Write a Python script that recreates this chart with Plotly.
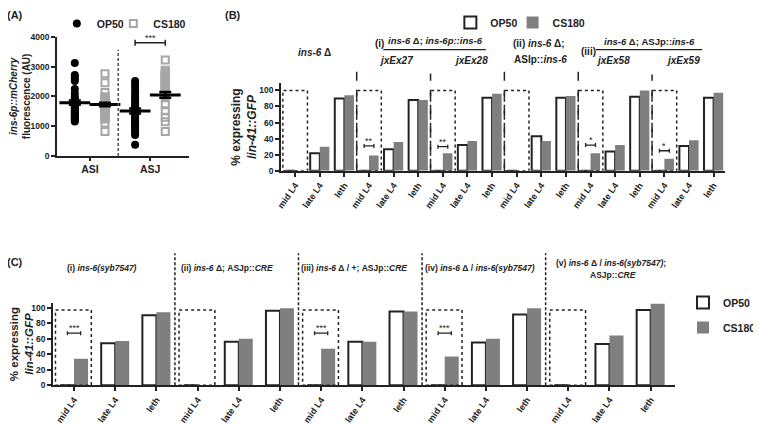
import plotly.graph_objects as go

# page is drawn 8px in from the window corner (body margin)
W, H = 761, 425
OFF = 8
FW, FH = W - OFF, H - OFF
FONT = "Liberation Sans, Arial, sans-serif"
INK = "#222222"
GREY = "#7f7f7f"
LIGHT = "#a6a6a6"

# ---------------- data ----------------
# (A) ins-6p::mCherry fluorescence (AU)
neurons = ["ASI", "ASJ"]
asi_op50 = [3120, 2720, 2650, 2580, 2520, 2250, 2100, 1980, 1920, 1880, 1850, 1820,
            1790, 1760, 1720, 1680, 1640, 1600, 1560, 1520, 1480, 1440, 1400, 1360,
            1320, 1280, 1240, 1200, 1160]
asi_cs180 = [2760, 2460, 2130, 1990, 1940, 1900, 1860, 1820, 1780, 1750, 1720, 1700,
             1680, 1650, 1620, 1590, 1560, 1530, 1500, 1470, 1440, 1400, 1360, 1320,
             1280, 1240, 1110, 820]
asj_op50 = [2520, 2420, 2320, 2200, 2100, 2000, 1900, 1800, 1720, 1650, 1600, 1560,
            1520, 1480, 1440, 1400, 1360, 1320, 1260, 1200, 1140, 1080, 1020, 960,
            900, 840, 780, 700, 380]
asj_cs180 = [3220, 2880, 2830, 2780, 2730, 2680, 2630, 2580, 2530, 2480, 2430, 2380,
             2330, 2280, 2230, 2180, 2130, 2080, 2030, 1980, 1720, 1520, 1300, 1150, 820]
mean_op50 = [1790, 1510]
sem_op50 = [70, 85]
mean_cs180 = [1730, 2050]
sem_cs180 = [60, 100]

# (B) and (C) % expressing lin-41::GFP
stages = ["mid L4", "late L4", "leth"]
b_op50 = [0, 22, 90, 0, 27, 88, 0, 32, 91, 0, 43, 91, 0, 24, 92, 0, 31, 91]
b_cs180 = [0, 30, 94, 19, 36, 88, 22, 37, 96, 0, 37, 93, 22, 32, 100, 15, 38, 97]
b_sig_idx = [3, 6, 12, 15]
b_sig_y = [31, 30, 32, 25]
b_sig_txt = ["**", "**", "*", "*"]

c_op50 = [0, 54, 90, 0, 56, 96, 0, 56, 95, 0, 55, 91, 0, 53, 97]
c_cs180 = [34, 57, 94, 0, 60, 99, 47, 56, 95, 37, 60, 99, 0, 64, 105]
c_sig_idx = [0, 6, 9]
c_sig_y = [67, 67, 67]
c_sig_txt = ["***", "***", "***"]


def px(x):
    return (x - OFF) / FW


def py(y):
    return 1 - (y - OFF) / FH


def bold(size, **kw):
    return dict(family=FONT, size=size, color=INK, weight="bold", **kw)


fig = go.Figure()

# ---------------- panel A ----------------
for vals, k, show in [(asi_op50, 0, True), (asj_op50, 1, False)]:
    fig.add_trace(go.Scatter(
        x=[k + 1 - 0.25] * len(vals), y=vals, mode="markers", name="OP50",
        marker=dict(symbol="circle", size=8, color="black"),
        showlegend=show, legend="legend", xaxis="x", yaxis="y"))
for vals, k, show in [(asi_cs180, 0, True), (asj_cs180, 1, False)]:
    fig.add_trace(go.Scatter(
        x=[k + 1 + 0.25] * len(vals), y=vals, mode="markers", name="CS180",
        marker=dict(symbol="square-open", size=7, color=LIGHT, line=dict(width=2, color=LIGHT)),
        showlegend=show, legend="legend4", xaxis="x", yaxis="y"))
for means, sems, off in [(mean_op50, sem_op50, -0.25), (mean_cs180, sem_cs180, 0.25)]:
    fig.add_trace(go.Scatter(
        x=[i + 1 + off for i in range(len(means))], y=means, mode="markers",
        marker=dict(symbol="line-ew", size=22, line=dict(width=3, color="black")),
        error_y=dict(type="data", array=sems, width=6, thickness=2.5, color="black"),
        showlegend=False, xaxis="x", yaxis="y"))
# significance bracket ASJ
fig.add_trace(go.Scatter(
    x=[2], y=[3800], mode="markers", marker=dict(size=1, color="rgba(0,0,0,0)"),
    error_x=dict(type="data", array=[0.25], width=3, thickness=1.5, color=INK),
    showlegend=False, xaxis="x", yaxis="y"))


# ---------------- panels B and C ----------------
def add_bars(op, cs, ax, ay, w, leg_op, leg_cs):
    xs = list(range(len(op)))
    fig.add_trace(go.Bar(x=xs, y=op, width=w, offset=-w, name="OP50", legendgroup=ax + "op",
                         marker=dict(color="white", line=dict(color=INK, width=2)),
                         legend=leg_op, xaxis=ax, yaxis=ay))
    fig.add_trace(go.Bar(x=xs, y=cs, width=w, offset=0, name="CS180", legendgroup=ax + "cs",
                         marker=dict(color=GREY, line=dict(width=0)),
                         legend=leg_cs, xaxis=ax, yaxis=ay))


add_bars(b_op50, b_cs180, "x2", "y2", 0.39, "legend2", "legend5")
add_bars(c_op50, c_cs180, "x3", "y3", 0.34, "legend3", "legend3")

for idx, yv, ax, ay, hw in [(b_sig_idx, b_sig_y, "x2", "y2", 0.2), (c_sig_idx, c_sig_y, "x3", "y3", 0.16)]:
    fig.add_trace(go.Scatter(
        x=idx, y=yv, mode="markers", marker=dict(size=1, color="rgba(0,0,0,0)"),
        error_x=dict(type="data", array=[hw] * len(idx), width=2, thickness=1.3, color=INK),
        showlegend=False, xaxis=ax, yaxis=ay))

shapes = []
annotations = []

# dotted boxes around mid L4
for i in range(0, len(b_op50), 3):
    shapes.append(dict(type="rect", xref="x2", yref="y2", x0=i - 0.5, x1=i + 0.5, y0=0, y1=100,
                       line=dict(color=INK, width=1.5, dash="dot")))
for i in range(0, len(c_op50), 3):
    shapes.append(dict(type="rect", xref="x3", yref="y3", x0=i - 0.45, x1=i + 0.42, y0=0, y1=97,
                       line=dict(color=INK, width=1.5, dash="dot")))

# dashed separators
b_tops = [62, 71, 62, 62, 72]
for k, top in enumerate(b_tops):
    shapes.append(dict(type="line", xref="x2", yref="paper", x0=3 * k + 2.5, x1=3 * k + 2.5,
                       y0=py(169), y1=py(top), line=dict(color=INK, width=1.5, dash="dash")))
for k in range(4):
    shapes.append(dict(type="line", xref="x3", yref="paper", x0=3 * k + 2.45, x1=3 * k + 2.45,
                       y0=py(385), y1=py(252), line=dict(color=INK, width=1.5, dash="3px,2px")))
# dashed ASI / ASJ divider
shapes.append(dict(type="line", xref="x", yref="paper", x0=1.47, x1=1.47, y0=py(154), y1=py(47),
                   line=dict(color="#555555", width=1.5, dash="3px,2px")))

# header rules in B
for x0, x1 in [(400, 507), (622, 733)]:
    shapes.append(dict(type="line", xref="paper", yref="paper", x0=px(x0), x1=px(x1),
                       y0=py(47), y1=py(47), line=dict(color=INK, width=1.2)))


def note(x, y, text, size=10, anchor="center"):
    annotations.append(dict(xref="paper", yref="paper", x=px(x), y=py(y), text=text,
                            showarrow=False, font=bold(size),
                            xanchor=anchor, yanchor="middle"))


note(15, 12, "(A)", 11)
note(243, 12, "(B)", 11)
note(15, 261, "(C)", 11)

note(328, 50, "<i>ins-6</i> Δ")
note(396, 41, "(i)")
note(454, 38, "<i>ins-6</i> Δ; <i>ins-6p::ins-6</i>", 9.5)
note(413, 58, "<i>jxEx27</i>")
note(492, 58, "<i>jxEx28</i>")
note(563, 41, "(ii) <i>ins-6</i> Δ;")
note(564, 57, "ASIp::<i>ins-6</i>")
note(614, 49, "(iii)")
note(678, 39, "<i>ins-6</i> Δ; ASJp::<i>ins-6</i>", 9.5)
note(640, 58, "<i>jxEx58</i>")
note(713, 58, "<i>jxEx59</i>")

note(106, 267, "(i) <i>ins-6(syb7547)</i>", 8.5)
note(237, 267, "(ii) <i>ins-6</i> Δ; ASJp::<i>CRE</i>", 8.5)
note(369, 267, "(iii) <i>ins-6</i> Δ / +; ASJp::<i>CRE</i>", 8.5)
note(501, 267, "(iv) <i>ins-6</i> Δ / <i>ins-6(syb7547)</i>", 8.5)
note(638, 262, "(v) <i>ins-6</i> Δ / <i>ins-6(syb7547)</i>;", 8.5)
note(640, 274, "ASJp::<i>CRE</i>", 8.5)

# stars
annotations.append(dict(xref="x", yref="y", x=2, y=3800, text="***", showarrow=False, yshift=5,
                        font=dict(family=FONT, size=9, color=INK)))
for idx, yv, txt, ax, ay in [(b_sig_idx, b_sig_y, b_sig_txt, "x2", "y2"),
                             (c_sig_idx, c_sig_y, c_sig_txt, "x3", "y3")]:
    for i, yy, t in zip(idx, yv, txt):
        annotations.append(dict(xref=ax, yref=ay, x=i, y=yy, text=t, showarrow=False, yshift=5,
                                font=dict(family=FONT, size=9, color=INK)))

axis_common = dict(showline=True, linecolor=INK, linewidth=1.5, ticks="outside",
                   tickcolor=INK, tickwidth=1.5, showgrid=False, zeroline=False,
                   automargin=False)


def legend_at(x, y, size=10.5, **kw):
    return dict(x=px(x), y=py(y), xanchor="left", yanchor="top", font=bold(size),
                bgcolor="rgba(0,0,0,0)", itemwidth=30, **kw)


fig.update_layout(
    width=FW, height=FH, margin=dict(l=0, r=0, t=0, b=0),
    paper_bgcolor="white", plot_bgcolor="white",
    font=dict(family=FONT, color=INK), barmode="overlay",
    xaxis=dict(domain=[px(59), px(197)], range=[0.452, 2.643], tickvals=[1, 2], ticktext=neurons,
               anchor="y", tickfont=bold(10.5), ticklen=3, **axis_common),
    yaxis=dict(domain=[py(154), py(34)], range=[0, 4000], tickvals=[0, 1000, 2000, 3000, 4000],
               anchor="x", tickfont=bold(8.5), ticklen=4,
               title=dict(text="<i>ins-6p::mCherry</i><br>fluorescence (AU)",
                          font=bold(10), standoff=10), **axis_common),
    xaxis2=dict(domain=[px(293), px(757)], range=[-0.58, 17.47], tickvals=list(range(len(b_op50))),
                ticktext=stages * (len(b_op50) // 3), tickangle=-55, anchor="y2",
                tickfont=bold(9), ticklen=4, **axis_common),
    yaxis2=dict(domain=[py(169), py(80.7)], range=[0, 109], tickvals=[0, 20, 40, 60, 80, 100],
                anchor="x2", tickfont=bold(8.5), ticklen=4,
                title=dict(text="% expressing<br><i>lin-41::GFP</i>", font=bold(12), standoff=0),
                **axis_common),
    xaxis3=dict(domain=[px(55), px(705)], range=[-0.51, 14.6], tickvals=list(range(len(c_op50))),
                ticktext=stages * (len(c_op50) // 3), tickangle=-55, anchor="y3",
                tickfont=bold(9), ticklen=4, **axis_common),
    yaxis3=dict(domain=[py(385), py(302)], range=[0, 106], tickvals=[0, 20, 40, 60, 80, 100],
                anchor="x3", tickfont=bold(8.5), ticklen=4,
                title=dict(text="% expressing<br><i>lin-41::GFP</i>", font=bold(11.5), standoff=2),
                **axis_common),
    legend=legend_at(59, 6),
    legend4=legend_at(118, 6),
    legend2=legend_at(470, 5),
    legend5=legend_at(535, 5),
    legend3=legend_at(713, 287, tracegroupgap=6),
    shapes=shapes, annotations=annotations,
)

fig.write_html("out.html")
